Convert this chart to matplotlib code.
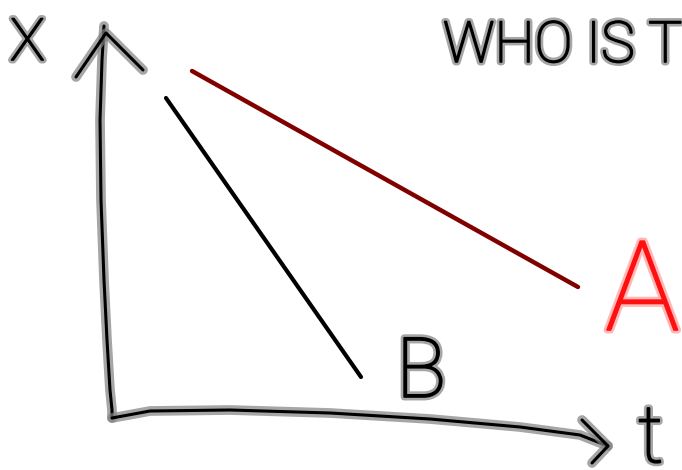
import matplotlib
matplotlib.use("Agg")
import matplotlib.pyplot as plt
import matplotlib.patheffects as pe

# sketch drawn in pixel space of the original (x right, y down)
line_a_x = [192, 578]
line_a_y = [71, 287]
line_b_x = [166, 361]
line_b_y = [98, 377]

# hand drawn axes
vaxis_x = [104, 102, 100, 101, 104, 107, 110, 112, 112]
vaxis_y = [26, 60, 120, 200, 280, 340, 390, 410, 418]
haxis_x = [112, 150, 230, 330, 430, 520, 580, 608]
haxis_y = [418, 411, 410, 413, 419, 427, 435, 446]
varrow_x = [76, 106, 143]
varrow_y = [77, 33, 70]
harrow_x = [582, 608, 592]
harrow_y = [420, 446, 463]

labels = ["X", "t", "B", "A", "WHO IS THE FASTEST?"]
label_x = [10, 638, 396, 605, 443]
label_y = [60, 462, 397, 330, 62]
label_size = [42, 58, 60, 90, 41]
label_color = ["black", "black", "black", "#ff1010", "black"]
glow_color = ["gray", "gray", "gray", "#ff9a9a", "gray"]

fig = plt.figure(figsize=(6.82, 4.70), dpi=100)
ax = fig.add_axes([0, 0, 1, 1])
ax.set_xlim(0, 682)
ax.set_ylim(470, 0)
ax.axis("off")

glow = [pe.Stroke(linewidth=7, foreground="gray", alpha=0.7), pe.Normal()]
for xs, ys in [(vaxis_x, vaxis_y), (haxis_x, haxis_y),
               (varrow_x, varrow_y), (harrow_x, harrow_y)]:
    ax.plot(xs, ys, color="black", lw=2.2, solid_capstyle="round",
            solid_joinstyle="round", path_effects=glow)

ax.plot(line_a_x, line_a_y, color="#800000", lw=3.2, solid_capstyle="round")
ax.plot(line_b_x, line_b_y, color="black", lw=3.0, solid_capstyle="round")

for s, x, y, size, c, g in zip(labels, label_x, label_y, label_size,
                               label_color, glow_color):
    ax.text(x, y, s, fontsize=size, color=c, ha="left", va="baseline",
            family=["Roboto", "DejaVu Sans"], fontweight="light",
            path_effects=[pe.withStroke(linewidth=5, foreground=g, alpha=0.7),
                          pe.withStroke(linewidth=1.2, foreground=c)],
            clip_on=False)

fig.savefig("out.png", dpi=100)
